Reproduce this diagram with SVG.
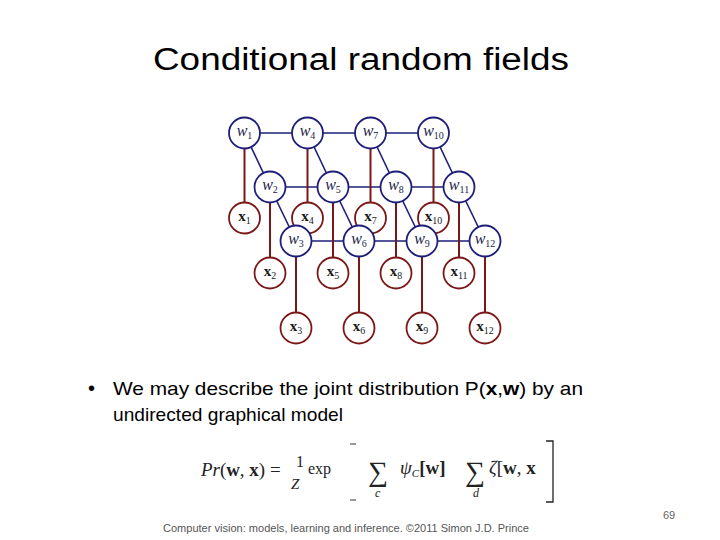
<svg xmlns="http://www.w3.org/2000/svg" width="720" height="540" viewBox="0 0 720 540">
<style>
.blue{stroke:#1e1e78;stroke-width:1.6;fill:none}
.red{stroke:#7a1818;stroke-width:2;fill:none}
.wn{fill:#fff;stroke:#1e1e78;stroke-width:1.8}
.xn{fill:#fff;stroke:#7a1818;stroke-width:1.8}
.wl{font-family:"Liberation Serif",serif;font-style:italic;font-size:16px;fill:#1c1c48;text-anchor:middle}
.xl{font-family:"Liberation Serif",serif;font-weight:bold;font-size:15px;fill:#1a1a1a;text-anchor:middle}
.sub{font-size:10px;font-style:normal;font-weight:normal}
.eq{font-family:"Liberation Serif",serif;fill:#222}
.body{font-family:"Liberation Sans",Arial,sans-serif;fill:#000}
</style>
<rect width="720" height="540" fill="#fff"/>
<text class="body" x="361" y="70" font-size="31" text-anchor="middle" textLength="416" lengthAdjust="spacingAndGlyphs">Conditional random fields</text>

<g id="connectors">
<line class="blue" x1="244.5" y1="133" x2="433.5" y2="133"/>
<line class="blue" x1="270" y1="187" x2="459" y2="187"/>
<line class="blue" x1="296" y1="241" x2="485" y2="241"/>
<line class="blue" x1="244.5" y1="133" x2="270" y2="187"/>
<line class="blue" x1="307.5" y1="133" x2="333" y2="187"/>
<line class="blue" x1="370.5" y1="133" x2="396" y2="187"/>
<line class="blue" x1="433.5" y1="133" x2="459" y2="187"/>
<line class="blue" x1="270" y1="187" x2="296" y2="241"/>
<line class="blue" x1="333" y1="187" x2="359" y2="241"/>
<line class="blue" x1="396" y1="187" x2="422" y2="241"/>
<line class="blue" x1="459" y1="187" x2="485" y2="241"/>
<line class="red" x1="244.5" y1="133" x2="244.5" y2="218"/>
<line class="red" x1="307.5" y1="133" x2="307.5" y2="218"/>
<line class="red" x1="370.5" y1="133" x2="370.5" y2="218"/>
<line class="red" x1="433.5" y1="133" x2="433.5" y2="218"/>
<line class="red" x1="270" y1="187" x2="270" y2="273"/>
<line class="red" x1="333" y1="187" x2="333" y2="273"/>
<line class="red" x1="396" y1="187" x2="396" y2="273"/>
<line class="red" x1="459" y1="187" x2="459" y2="273"/>
<line class="red" x1="296" y1="241" x2="296" y2="328"/>
<line class="red" x1="359" y1="241" x2="359" y2="328"/>
<line class="red" x1="422" y1="241" x2="422" y2="328"/>
<line class="red" x1="485" y1="241" x2="485" y2="328"/>
</g>

<g id="x1"><circle class="xn" cx="244.5" cy="218" r="15.5"/><text class="xl" x="244.5" y="221">x<tspan class="sub" dy="3">1</tspan></text></g>
<g id="x4"><circle class="xn" cx="307.5" cy="218" r="15.5"/><text class="xl" x="307.5" y="221">x<tspan class="sub" dy="3">4</tspan></text></g>
<g id="x7"><circle class="xn" cx="370.5" cy="218" r="15.5"/><text class="xl" x="370.5" y="221">x<tspan class="sub" dy="3">7</tspan></text></g>
<g id="x10"><circle class="xn" cx="433.5" cy="218" r="15.5"/><text class="xl" x="433.5" y="221">x<tspan class="sub" dy="3">10</tspan></text></g>
<g id="x2"><circle class="xn" cx="270" cy="273" r="15.5"/><text class="xl" x="270" y="276">x<tspan class="sub" dy="3">2</tspan></text></g>
<g id="x5"><circle class="xn" cx="333" cy="273" r="15.5"/><text class="xl" x="333" y="276">x<tspan class="sub" dy="3">5</tspan></text></g>
<g id="x8"><circle class="xn" cx="396" cy="273" r="15.5"/><text class="xl" x="396" y="276">x<tspan class="sub" dy="3">8</tspan></text></g>
<g id="x11"><circle class="xn" cx="459" cy="273" r="15.5"/><text class="xl" x="459" y="276">x<tspan class="sub" dy="3">11</tspan></text></g>
<g id="x3"><circle class="xn" cx="296" cy="328" r="15.5"/><text class="xl" x="296" y="331">x<tspan class="sub" dy="3">3</tspan></text></g>
<g id="x6"><circle class="xn" cx="359" cy="328" r="15.5"/><text class="xl" x="359" y="331">x<tspan class="sub" dy="3">6</tspan></text></g>
<g id="x9"><circle class="xn" cx="422" cy="328" r="15.5"/><text class="xl" x="422" y="331">x<tspan class="sub" dy="3">9</tspan></text></g>
<g id="x12"><circle class="xn" cx="485" cy="328" r="15.5"/><text class="xl" x="485" y="331">x<tspan class="sub" dy="3">12</tspan></text></g>

<g id="w1"><circle class="wn" cx="244.5" cy="133" r="15.5"/><text class="wl" x="244.5" y="136">w<tspan class="sub" dy="3">1</tspan></text></g>
<g id="w4"><circle class="wn" cx="307.5" cy="133" r="15.5"/><text class="wl" x="307.5" y="136">w<tspan class="sub" dy="3">4</tspan></text></g>
<g id="w7"><circle class="wn" cx="370.5" cy="133" r="15.5"/><text class="wl" x="370.5" y="136">w<tspan class="sub" dy="3">7</tspan></text></g>
<g id="w10"><circle class="wn" cx="433.5" cy="133" r="15.5"/><text class="wl" x="433.5" y="136">w<tspan class="sub" dy="3">10</tspan></text></g>
<g id="w2"><circle class="wn" cx="270" cy="187" r="15.5"/><text class="wl" x="270" y="190">w<tspan class="sub" dy="3">2</tspan></text></g>
<g id="w5"><circle class="wn" cx="333" cy="187" r="15.5"/><text class="wl" x="333" y="190">w<tspan class="sub" dy="3">5</tspan></text></g>
<g id="w8"><circle class="wn" cx="396" cy="187" r="15.5"/><text class="wl" x="396" y="190">w<tspan class="sub" dy="3">8</tspan></text></g>
<g id="w11"><circle class="wn" cx="459" cy="187" r="15.5"/><text class="wl" x="459" y="190">w<tspan class="sub" dy="3">11</tspan></text></g>
<g id="w3"><circle class="wn" cx="296" cy="241" r="15.5"/><text class="wl" x="296" y="244">w<tspan class="sub" dy="3">3</tspan></text></g>
<g id="w6"><circle class="wn" cx="359" cy="241" r="15.5"/><text class="wl" x="359" y="244">w<tspan class="sub" dy="3">6</tspan></text></g>
<g id="w9"><circle class="wn" cx="422" cy="241" r="15.5"/><text class="wl" x="422" y="244">w<tspan class="sub" dy="3">9</tspan></text></g>
<g id="w12"><circle class="wn" cx="485" cy="241" r="15.5"/><text class="wl" x="485" y="244">w<tspan class="sub" dy="3">12</tspan></text></g>

<text class="body" x="88" y="395" font-size="20">•</text>
<text class="body" x="113" y="395" font-size="19" textLength="470" lengthAdjust="spacingAndGlyphs">We may describe the joint distribution P(<tspan font-weight="bold">x</tspan>,<tspan font-weight="bold">w</tspan>) by an</text>
<text class="body" x="113" y="421" font-size="19" textLength="230" lengthAdjust="spacingAndGlyphs">undirected graphical model</text>

<g class="eq">
<text x="201" y="476" font-size="19" textLength="64" lengthAdjust="spacingAndGlyphs"><tspan font-style="italic">Pr</tspan>(<tspan font-weight="bold">w</tspan>, <tspan font-weight="bold">x</tspan>)</text>
<text x="270" y="476" font-size="19">=</text>
<text x="296" y="467" font-size="16">1</text>
<text x="291" y="489" font-size="15" font-style="italic">Z</text>
<text x="308" y="474" font-size="16">exp</text>
<line x1="350" y1="444" x2="356" y2="444" stroke="#555" stroke-width="1.2"/>
<line x1="350" y1="500" x2="356" y2="500" stroke="#555" stroke-width="1.2"/>
<text x="368" y="481" font-size="28">∑</text>
<text x="375" y="497" font-size="12" font-style="italic">c</text>
<text x="400" y="474" font-size="19" font-style="italic">ψ<tspan font-size="11" dy="3">C</tspan><tspan dy="-3" font-style="normal" font-weight="bold">[w]</tspan></text>
<text x="465" y="481" font-size="28">∑</text>
<text x="473" y="497" font-size="12" font-style="italic">d</text>
<text x="489" y="474" font-size="19"><tspan font-style="italic">ζ</tspan>[<tspan font-weight="bold">w</tspan>, <tspan font-weight="bold">x</tspan></text>
<path d="M546 441 H553 V502 H546" stroke="#222" stroke-width="1.3" fill="none"/>
</g>

<text class="body" x="163" y="532" font-size="11" style="fill:#555" textLength="366" lengthAdjust="spacingAndGlyphs">Computer vision: models, learning and inference.  ©2011 Simon J.D. Prince</text>
<text class="body" x="663" y="519" font-size="11" style="fill:#666">69</text>
</svg>
